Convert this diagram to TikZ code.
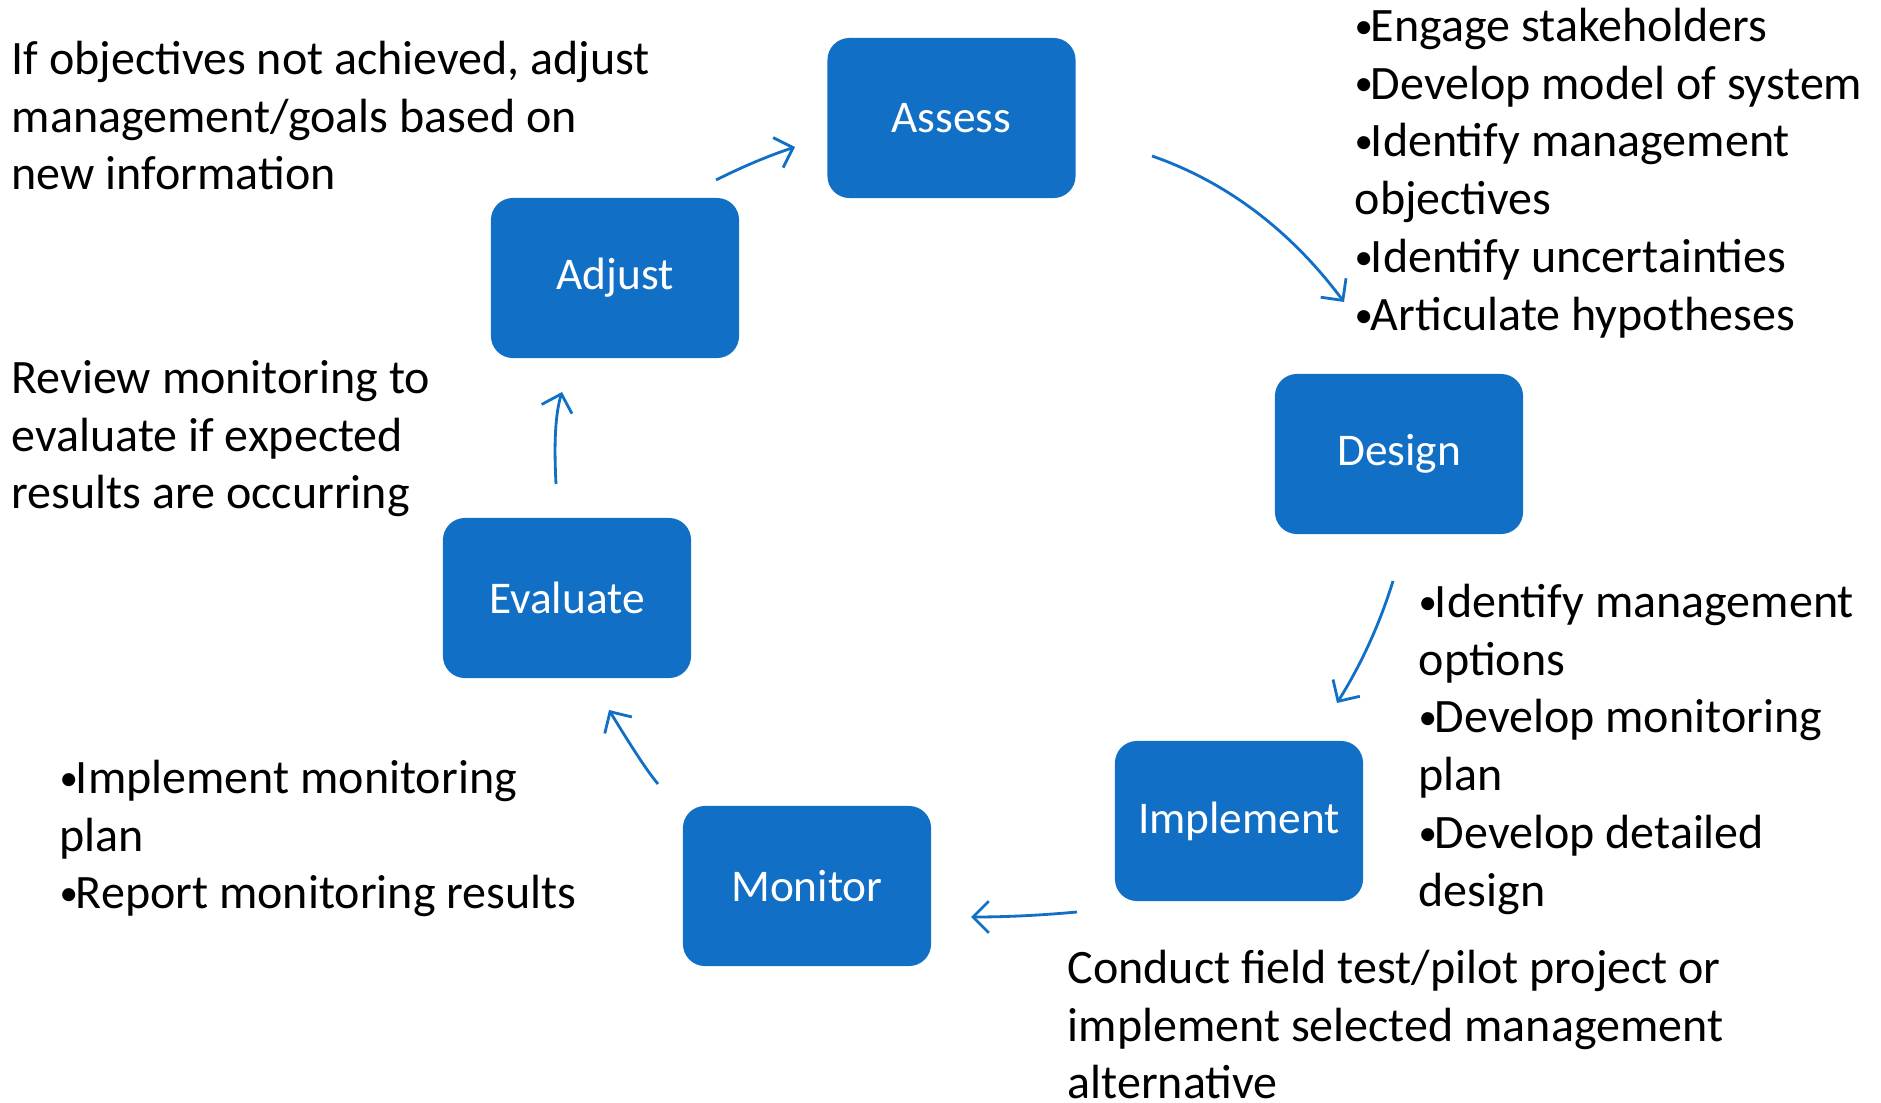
\documentclass[tikz,border=0pt]{standalone}
\usepackage{fontspec}
\setmainfont{Carlito}
\usepackage{xcolor}
\usepackage{tikz}
\usetikzlibrary{arrows.meta,positioning}
\definecolor{stageblue}{RGB}{17,112,198}
\newcommand{\bul}{\raisebox{0.9pt}{\fontsize{10.5}{12}\selectfont •}\kern-0.6pt}

\begin{document}
\begin{tikzpicture}[x=0.01cm, y=0.01cm,
  every node/.style={font=\fontsize{13.65}{16.45}\selectfont},
  stage/.style={rectangle, rounded corners=0.22cm, fill=stageblue, text=white, minimum width=2.48cm, minimum height=1.6cm, font=\fontsize{12.9}{15.5}\selectfont},
  note/.style={anchor=north west, align=left, inner sep=0pt},
  flow/.style={draw=stageblue, line width=0.8pt, -{Straight Barb[length=4.5pt,width=9pt]}}]
\useasboundingbox (0,0) rectangle (1881,-1103);
% Stages of the cycle
\node[stage] (assess) at (951.5,-118) {Assess};
\node[stage] (design) at (1399,-454) {Design};
\node[stage] (implement) at (1239,-821) {Implement};
\node[stage] (monitor) at (807,-886) {Monitor};
\node[stage] (evaluate) at (567,-598) {Evaluate};
\node[stage] (adjust) at (615,-278) {Adjust};
% Notes
\node[note] (adjustnote) at (11,-33) {\strut If objectives not achieved, adjust\\management/goals based on\\new information};
\node[note] (assessnote) at (1354,0) {\strut \bul Engage stakeholders\\\bul Develop model of system\\\bul Identify management\\objectives\\\bul Identify uncertainties\\\bul Articulate hypotheses};
\node[note] (evaluatenote) at (11,-352) {\strut Review monitoring to\\evaluate if expected\\results are occurring};
\node[note] (designnote) at (1418,-576) {\strut \bul Identify management\\options\\\bul Develop monitoring\\plan\\\bul Develop detailed\\design};
\node[note] (monitornote) at (59,-752) {\strut \bul Implement monitoring\\plan\\\bul Report monitoring results};
\node[note] (implementnote) at (1067,-942) {\strut Conduct field test/pilot project or\\implement selected management\\alternative};
% Arrow ends
\coordinate (adjustout) at (716,-180);
\coordinate (assessin) at (795,-147);
\coordinate (assessout) at (1152,-156);
\coordinate (designin) at (1344,-302);
\coordinate (designout) at (1393,-581);
\coordinate (implementin) at (1337,-703);
\coordinate (implementout) at (1077,-912);
\coordinate (monitorin) at (971,-917);
\coordinate (monitorout) at (658,-784);
\coordinate (evaluatein) at (609,-710);
\coordinate (evaluateout) at (556,-484);
\coordinate (adjustin) at (562,-392);
% Arrows
\draw[flow] (adjustout) .. controls (740,-168) and (765,-157) .. (assessin);
\draw[flow] (assessout) .. controls (1227,-182) and (1291,-231) .. (designin);
\draw[flow] (designout) .. controls (1380,-623) and (1362,-663) .. (implementin);
\draw[flow] (implementout) .. controls (1044,-915) and (1009,-917) .. (monitorin);
\draw[flow] (monitorout) .. controls (647,-771) and (631,-746) .. (evaluatein);
\draw[flow] (evaluateout) .. controls (554,-445) and (555,-415) .. (adjustin);
\end{tikzpicture}
\end{document}
